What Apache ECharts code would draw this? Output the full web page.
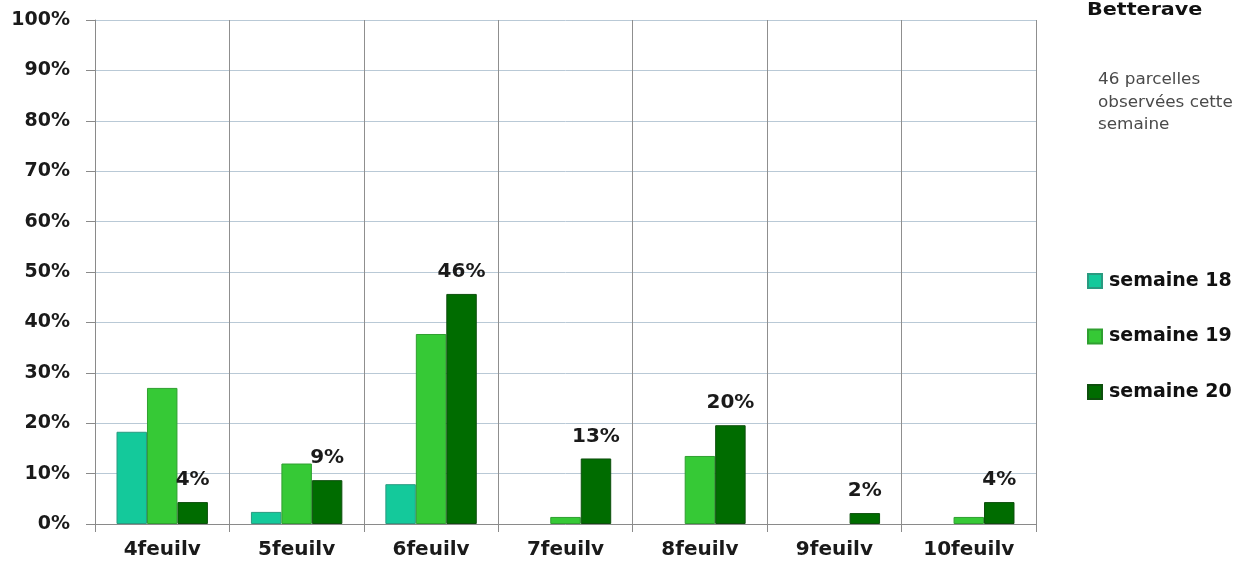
<!DOCTYPE html>
<html>
<head>
<meta charset="utf-8">
<script src="https://cdn.jsdelivr.net/npm/echarts@6/dist/echarts.min.js"></script>
<style>
html,body{margin:0;padding:0;background:#fff;}
#chart{width:1237px;height:565px;}
</style>
</head>
<body>
<div id="chart"></div>
<script>
const categories = ['4feuilv','5feuilv','6feuilv','7feuilv','8feuilv','9feuilv','10feuilv'];
const seriesNames = ['semaine 18','semaine 19','semaine 20'];
const semaine18 = [18.3, 2.4, 7.9, 0, 0, 0, 0];
const semaine19 = [27.0, 12.0, 37.7, 1.4, 13.5, 0, 1.4];
const semaine20 = [4.35, 8.7, 45.65, 13.0, 19.6, 2.17, 4.35];
const colors = ['#14c99b', '#36c936', '#006c00'];
const borderColors = ['#2a9a80', '#2f9f30', '#0d4f0d'];
const titleText = 'Betterave';
const noteText = '46 parcelles\nobservées cette\nsemaine';

const chart = echarts.init(document.getElementById('chart'), null, {renderer:'canvas'});
const FONT = 'DejaVu Sans';
const dataSets = [semaine18, semaine19, semaine20];

const series = dataSets.map((d, i) => ({
  name: seriesNames[i],
  type: 'bar',
  data: d.map(v => v === 0 ? '-' : v),
  barGap: '0%',
  barCategoryGap: '32%',
  itemStyle: { color: colors[i], borderColor: borderColors[i], borderWidth: 1 },
  label: i === 2 ? {
    show: true,
    position: 'top',
    distance: 12,
    fontFamily: FONT,
    fontWeight: 'bold',
    fontSize: 20,
    color: '#1a1a1a',
    formatter: p => Math.round(p.value) + '%'
  } : { show: false },
  emphasis: { disabled: true }
}));

chart.setOption({
  animation: false,
  backgroundColor: '#ffffff',
  textStyle: { fontFamily: FONT },
  graphic: [
    { type: 'text', left: 1087, top: 1, scaleX: 1.15, style: { text: titleText, fontFamily: FONT, fontWeight: 'bold', fontSize: 18, fill: '#111' } },
    { type: 'text', left: 1098, top: 69, scaleX: 1.05, style: { text: noteText, fontFamily: FONT, fontSize: 16, lineHeight: 22.5, fill: '#4a4a4a' } }
  ],
  legend: {
    orient: 'vertical',
    left: 1087,
    top: 271,
    padding: 0,
    itemWidth: 14,
    itemHeight: 14,
    itemGap: 35.5,
    icon: 'rect',
    textStyle: { fontFamily: FONT, fontWeight: 'bold', fontSize: 19, lineHeight: 20, color: '#111', padding: [0,0,0,2] },
    data: seriesNames
  },
  grid: { left: 95, right: 201, top: 20, bottom: 41, containLabel: false },
  xAxis: {
    type: 'category',
    data: categories,
    boundaryGap: true,
    axisLine: { show: true, lineStyle: { color: '#8a8a8a', width: 1 } },
    axisTick: { show: true, length: 8, interval: 0, lineStyle: { color: '#8a8a8a' } },
    axisLabel: { interval: 0, margin: 16, fontFamily: FONT, fontWeight: 'bold', fontSize: 20, color: '#1a1a1a' },
    splitLine: { show: true, interval: 0, lineStyle: { color: '#8f8f8f', width: 1 } }
  },
  yAxis: {
    type: 'value',
    min: 0,
    max: 100,
    interval: 10,
    axisLine: { show: true, lineStyle: { color: '#8a8a8a', width: 1 } },
    axisTick: { show: true, length: 9, lineStyle: { color: '#8a8a8a' } },
    axisLabel: { margin: 25, fontFamily: FONT, fontWeight: 'bold', fontSize: 19, color: '#1a1a1a', formatter: '{value}%' },
    splitLine: { show: true, lineStyle: { color: '#b9c9d6', width: 1 } }
  },
  series: series
});
</script>
</body>
</html>
